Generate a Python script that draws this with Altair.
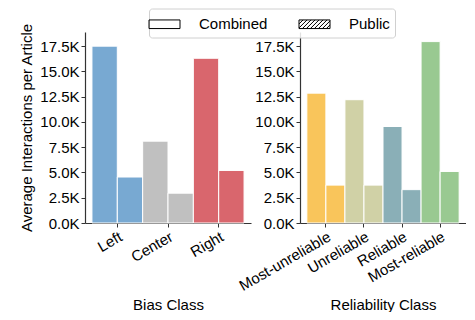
import altair as alt
import pandas as pd

# ---- data ----
bias_classes = ["Left", "Center", "Right"]
bias_combined = [17500, 8100, 16300]
bias_public = [4550, 2950, 5200]

rel_classes = ["Most-unreliable", "Unreliable", "Reliable", "Most-reliable"]
rel_combined = [12850, 12200, 9550, 17950]
rel_public = [3750, 3750, 3300, 5100]

types = ["Combined", "Public"]
y_ticks = [0, 2500, 5000, 7500, 10000, 12500, 15000, 17500]

bias_colors = ["#78a9d2", "#c0c0c0", "#d9666d"]
rel_colors = ["#f9c55b", "#d0d1a6", "#8aafb7", "#99c991"]


def make_df(classes, combined, public):
    rows = []
    for c, a, b in zip(classes, combined, public):
        rows.append({"cls": c, "type": "Combined", "value": a})
        rows.append({"cls": c, "type": "Public", "value": b})
    return pd.DataFrame(rows)


# legend swatch shapes (unit paths, scaled by symbol size)
W, H = 1.55, 0.43
rect_path = f"M{-W},{-H}L{W},{-H}L{W},{H}L{-W},{H}Z"


def hatch_path(spacing=0.4):
    parts = [rect_path]
    x0 = -W - 2 * H
    while x0 < W:
        xa, ya = x0, H
        xb, yb = x0 + 2 * H, -H
        if xa < -W:
            ya = H - (-W - xa)
            xa = -W
        if xb > W:
            yb = -H + (xb - W)
            xb = W
        if xb > xa:
            parts.append(f"M{xa:.3f},{ya:.3f}L{xb:.3f},{yb:.3f}")
        x0 += spacing
    return "".join(parts)


label_expr = "format(datum.value / 1000, '.1f') + 'K'"


def panel(df, classes, colors, xtitle, ytitle, outer):
    y_axis = alt.Axis(values=y_ticks, labelExpr=label_expr, grid=False,
                      titlePadding=5)
    bars = alt.Chart(df).mark_bar(stroke="white", strokeWidth=1).encode(
        x=alt.X("cls:N", sort=classes, title=xtitle,
                scale=alt.Scale(paddingInner=0, paddingOuter=outer),
                axis=alt.Axis(labelAngle=-30, labelAlign="right",
                              labelBaseline="top", titleY=86,
                              titleBaseline="alphabetic")),
        xOffset=alt.XOffset("type:N", sort=types,
                            scale=alt.Scale(paddingInner=0, paddingOuter=0)),
        y=alt.Y("value:Q", title=ytitle,
                scale=alt.Scale(domain=[0, 18900], nice=False),
                axis=y_axis),
        color=alt.Color("cls:N", scale=alt.Scale(domain=classes, range=colors),
                        legend=None),
    )
    return bars


left = panel(make_df(bias_classes, bias_combined, bias_public), bias_classes,
             bias_colors, "Bias Class", "Average Interactions per Article", 0.137)
right = panel(make_df(rel_classes, rel_combined, rel_public), rel_classes,
              rel_colors, "Reliability Class", None, 0.18)

legend_df = pd.DataFrame({"type": types})
legend_layer = alt.Chart(legend_df).mark_point(
    filled=False, color="black", strokeWidth=1, opacity=1
).encode(
    shape=alt.Shape(
        "type:N", sort=types, title=None,
        scale=alt.Scale(domain=types, range=[rect_path, hatch_path()]),
        legend=alt.Legend(
            orient="none", legendX=64, legendY=-23.5, direction="horizontal",
            symbolSize=400, symbolStrokeWidth=1, symbolStrokeColor="black",
            labelFontSize=15, labelOffset=24, columnPadding=29,
            padding=5, strokeColor="#d0d0d0", cornerRadius=3,
            fillColor="rgba(255,255,255,0.85)",
        ),
    )
).transform_filter("false")

left_layer = alt.layer(left, legend_layer).properties(width=166, height=191)
right_chart = right.properties(width=166, height=191)

chart = alt.hconcat(left_layer, right_chart, spacing=49, bounds="flush").resolve_scale(
    color="independent", x="independent", xOffset="independent"
).properties(
    padding={"left": 11, "top": 0, "right": 0, "bottom": 0}
).configure(
    font="Liberation Sans",
).configure_view(
    stroke=None
).configure_axis(
    labelFontSize=15, titleFontSize=15, labelColor="black", titleColor="black",
    titleFontWeight="normal", domainColor="#333333", domainWidth=1.2,
    tickColor="#333333", tickSize=4, labelPadding=2, labelFont="Liberation Sans",
    titleFont="Liberation Sans"
).configure_legend(
    labelFont="Liberation Sans", labelColor="black"
)

chart.save("out.html", embed_options={"renderer": "svg", "actions": False})
